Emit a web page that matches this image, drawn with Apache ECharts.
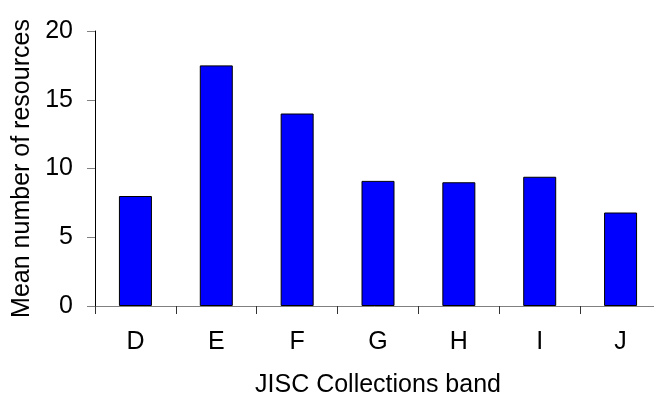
<!DOCTYPE html>
<html><head><meta charset="utf-8">
<script src="https://cdn.jsdelivr.net/npm/echarts@6/dist/echarts.min.js"></script>
<style>html,body{margin:0;padding:0;background:#fff}#c{width:654px;height:396px}</style>
</head><body><div id="c"></div>
<script>
var categories = ['D','E','F','G','H','I','J'];
var values = [8.0, 17.5, 14.0, 9.1, 9.0, 9.4, 6.8];
var yTicks = [0, 5, 10, 15, 20];

var chart = echarts.init(document.getElementById('c'), null, {renderer:'canvas'});
var font = '"Liberation Sans", Arial, sans-serif';
chart.setOption({
  animation: false,
  backgroundColor: '#fff',
  grid: {left: 95, top: 31, bottom: 90, right: -7, containLabel: false, outerBoundsMode: 'none'},
  xAxis: {
    type: 'category', data: categories,
    name: 'JISC Collections band', nameLocation: 'middle', nameGap: 67,
    nameTextStyle: {color: '#000', fontSize: 25, fontFamily: font},
    axisLine: {lineStyle: {color: '#808080', width: 1}},
    axisTick: {show: true, alignWithLabel: false, length: 8, lineStyle: {color: '#333'}},
    axisLabel: {color: '#000', fontSize: 25, fontFamily: font, margin: 24}
  },
  yAxis: {
    type: 'value', min: yTicks[0], max: yTicks[yTicks.length-1], interval: 5,
    name: 'Mean number of resources', nameLocation: 'middle', nameGap: 59,
    nameTextStyle: {color: '#000', fontSize: 25, fontFamily: font},
    axisLine: {show: true, lineStyle: {color: '#000', width: 1}},
    axisTick: {show: true, length: 8, lineStyle: {color: '#808080'}},
    splitLine: {show: false},
    axisLabel: {color: '#000', fontSize: 25, fontFamily: font, margin: 22}
  },
  series: [{
    type: 'bar', data: values, barWidth: 33,
    itemStyle: {color: '#0000ff', borderColor: '#000', borderWidth: 1}
  }]
});
</script></body></html>
